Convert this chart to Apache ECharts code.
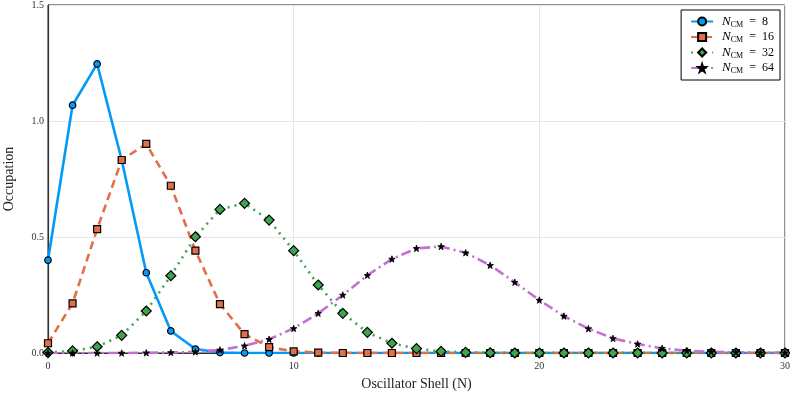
<!DOCTYPE html>
<html>
<head>
<meta charset="utf-8">
<script src="https://cdn.jsdelivr.net/npm/echarts@6/dist/echarts.min.js"></script>
<style>
  html, body { margin: 0; padding: 0; background: #fff; }
  #chart { width: 790px; height: 394px; }
</style>
</head>
<body>
<div id="chart"></div>
<script>
// Oscillator shell index N
const shells = Array.from({ length: 31 }, (_, i) => i);

// Occupation per shell for each centre-of-mass cutoff
const occN8 = [0.40, 1.068, 1.246, 0.832, 0.346, 0.095, 0.017, 0.002, 0, 0,
  0, 0, 0, 0, 0, 0, 0, 0, 0, 0, 0, 0, 0, 0, 0, 0, 0, 0, 0, 0, 0];
const occN16 = [0.042, 0.214, 0.534, 0.832, 0.901, 0.721, 0.441, 0.211, 0.081, 0.025,
  0.007, 0.002, 0, 0, 0, 0, 0, 0, 0, 0, 0, 0, 0, 0, 0, 0, 0, 0, 0, 0, 0];
const occN32 = [0.002, 0.009, 0.027, 0.076, 0.181, 0.333, 0.501, 0.619, 0.645, 0.573,
  0.441, 0.293, 0.171, 0.089, 0.042, 0.019, 0.007, 0.003, 0.001, 0, 0, 0, 0, 0, 0, 0, 0, 0, 0, 0, 0];
const occN64 = [0, 0, 0, 0, 0.001, 0.002, 0.005, 0.013, 0.031, 0.059,
  0.106, 0.171, 0.25, 0.335, 0.405, 0.451, 0.459, 0.432, 0.378, 0.305,
  0.228, 0.159, 0.105, 0.063, 0.039, 0.020, 0.010, 0.005, 0.003, 0.001, 0.0005];

const cutoffs = ['8', '16', '32', '64'];

const FONT = '"Liberation Serif", "DejaVu Serif", serif';
const STAR = 'path://M0,-10 L2.35,-3.24 9.51,-3.09 3.8,1.24 5.88,8.09 0,4 -5.88,8.09 -3.8,1.24 -9.51,-3.09 -2.35,-3.24Z';

function pairs(vals) { return shells.map((n, i) => [n, vals[i]]); }

function lineSeries(name, vals, color, dash, symbol, size, markerColor, border) {
  return {
    name: name,
    type: 'line',
    data: pairs(vals),
    symbol: symbol,
    symbolSize: size,
    showAllSymbol: true,
    lineStyle: { color: color, width: 2.6, type: dash, cap: 'butt' },
    itemStyle: { color: markerColor || color, borderColor: '#000', borderWidth: border || 1.2 },
    emphasis: { disabled: true },
    animation: false
  };
}

const chart = echarts.init(document.getElementById('chart'), null, { renderer: 'canvas' });

chart.setOption({
  backgroundColor: '#fff',
  animation: false,
  grid: {
    left: 48, right: 5, top: 5, bottom: 41,
    outerBoundsMode: 'none',
    containLabel: false,
    show: true, borderColor: '#222', borderWidth: 1
  },
  legend: {
    orient: 'vertical',
    right: 10,
    top: 10,
    padding: [5, 6, 5, 9],
    itemGap: 2,
    itemWidth: 22,
    itemHeight: 10,
    backgroundColor: '#fff',
    borderColor: '#000',
    borderWidth: 1,
    borderRadius: 0,
    data: cutoffs.map(c => 'N' + c),
    formatter: function (name) {
      return '{i|N}{s|CM}{t|  =  ' + name.slice(1) + '}';
    },
    textStyle: {
      fontFamily: FONT,
      color: '#000',
      padding: [0, 0, 0, 4],
      rich: {
        i: { fontFamily: FONT, fontStyle: 'italic', fontSize: 13, color: '#000' },
        s: { fontFamily: FONT, fontSize: 8, color: '#000', padding: [6, 0, 0, 0] },
        t: { fontFamily: FONT, fontSize: 12, color: '#000' }
      }
    }
  },
  xAxis: {
    type: 'value',
    min: 0, max: 30, interval: 10,
    name: 'Oscillator Shell (N)',
    nameLocation: 'middle',
    nameGap: 24,
    nameTextStyle: { fontFamily: FONT, fontSize: 14, color: '#222' },
    axisLine: { show: true, lineStyle: { color: '#333', width: 1.2 } },
    axisTick: { show: false },
    axisLabel: { fontFamily: FONT, fontSize: 10, color: '#333', margin: 8 },
    splitLine: { show: true, lineStyle: { color: '#e6e6e6', width: 1 } }
  },
  yAxis: {
    type: 'value',
    min: 0, max: 1.5, interval: 0.5,
    name: 'Occupation',
    nameLocation: 'middle',
    nameGap: 32,
    nameTextStyle: { fontFamily: FONT, fontSize: 14, color: '#222' },
    axisLine: { show: true, lineStyle: { color: '#333', width: 1.2 } },
    axisTick: { show: false },
    axisLabel: {
      fontFamily: FONT, fontSize: 10, color: '#333', margin: 4,
      formatter: v => v.toFixed(1)
    },
    splitLine: { show: true, lineStyle: { color: '#e6e6e6', width: 1 } }
  },
  series: [
    lineSeries('N8', occN8, '#009AFA', 'solid', 'circle', 6.5),
    lineSeries('N16', occN16, '#E36F47', [8, 5], 'rect', 7),
    lineSeries('N32', occN32, '#3EA44E', [2, 5], 'diamond', 10),
    lineSeries('N64', occN64, '#C271D2', [10, 4, 2, 4], STAR, 6.5, '#000', 0.8)
  ]
});
</script>
</body>
</html>
